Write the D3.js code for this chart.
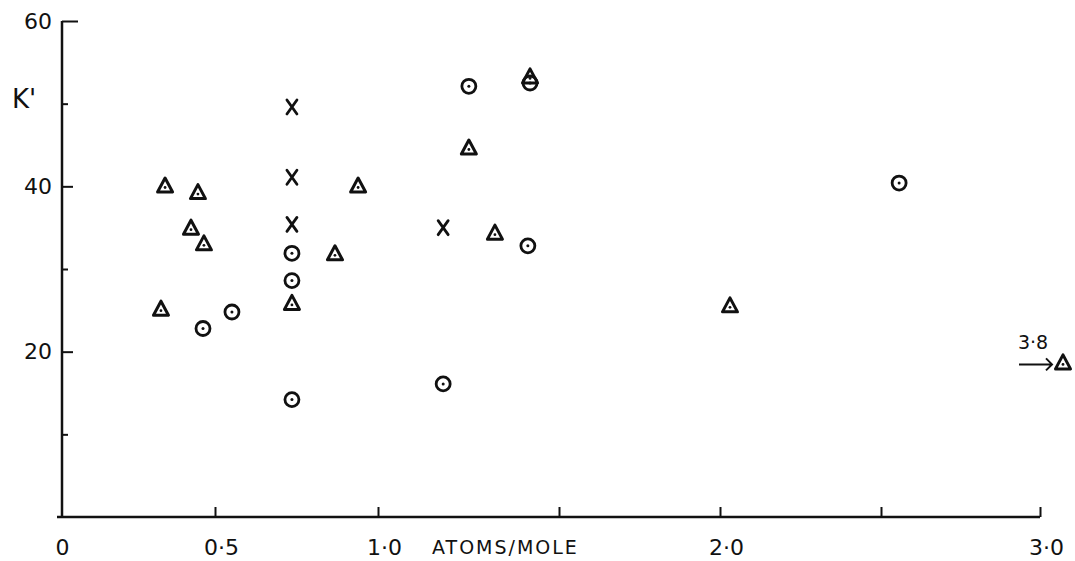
<!DOCTYPE html>
<html>
<head>
<meta charset="utf-8">
<script src="https://cdn.jsdelivr.net/npm/d3@7"></script>
<style>
  body { margin: 0; background: #fff; }
  svg text { font-family: "DejaVu Sans", sans-serif; fill: #111; }
</style>
</head>
<body>
<div id="chart"></div>
<script>
var svgWidth = 1075;
var svgHeight = 561;

// data
var triX = [0.342, 0.446, 0.424, 0.465, 0.329, 0.736, 0.939, 0.868, 1.251, 1.323, 1.42, 2.031, 3.8];
var triY = [40.1, 39.3, 35.0, 33.1, 25.2, 25.9, 40.1, 31.9, 44.7, 34.4, 53.3, 25.6, 18.7];
var circX = [0.552, 0.462, 0.736, 0.736, 0.736, 1.18, 1.251, 1.414, 2.557, 1.42];
var circY = [24.8, 22.8, 31.9, 28.6, 14.2, 16.1, 52.1, 32.8, 40.4, 52.5];
var crossX = [0.736, 0.736, 0.736, 1.18];
var crossY = [49.6, 41.1, 35.4, 35.0];

var xTicks = [0, 0.5, 1, 1.5, 2, 2.5, 3];
var xLabelled = [0, 0.5, 1, 2, 3];
var yTicks = [10, 20, 30, 40, 50, 60];
var yLabelled = [20, 40, 60];
var offScale = 3.8; // plotted past the end of the axis with an arrow

var svg = d3.select("#chart")
  .append("svg")
  .attr("width", svgWidth)
  .attr("height", svgHeight);

// the hand-drawn axis isn't quite even, so use a piecewise scale
var xScale = d3.scaleLinear()
  .domain([0, 0.5, 1, 1.5, 2, 2.5, 3, 3.8])
  .range([57, 215, 378, 559, 720, 881, 1040, 1063]);

var yScale = d3.scaleLinear()
  .domain([0, 60])
  .range([517, 21]);

var fmt = d => d === 0 ? "0" : d3.format(".1f")(d).replace(".", "·");

// x axis
var xAxis = d3.axisBottom(xScale)
  .tickValues(xTicks)
  .tickSizeInner(-10)
  .tickSizeOuter(0)
  .tickPadding(22)
  .tickFormat(d => xLabelled.includes(d) ? fmt(d) : "");

var gx = svg.append("g")
  .attr("transform", `translate(0, ${yScale(0)})`)
  .call(xAxis);
gx.select(".domain").remove();
gx.selectAll(".tick line").attr("stroke", "#111").attr("stroke-width", 2)
  .attr("y2", d => d === 0 ? 0 : -10);
gx.selectAll(".tick text").attr("font-size", 22).attr("dx", d => d === 0 ? 5 : 6);

svg.append("line")
  .attr("x1", xScale(0)).attr("x2", xScale(3))
  .attr("y1", yScale(0)).attr("y2", yScale(0))
  .attr("stroke", "#111").attr("stroke-width", 2.5);

// y axis
var yAxis = d3.axisLeft(yScale)
  .tickValues(yTicks)
  .tickSizeInner(-10)
  .tickSizeOuter(0)
  .tickPadding(10)
  .tickFormat(d => yLabelled.includes(d) ? d3.format("d")(d) : "");

var gy = svg.append("g")
  .attr("transform", `translate(${xScale(0) + 5}, 0)`)
  .call(yAxis);
gy.select(".domain").remove();
gy.selectAll(".tick line").attr("stroke", "#111").attr("stroke-width", 2)
  .attr("x2", d => d === 60 ? 16 : (d % 20 === 0 ? 11 : 6));
gy.selectAll(".tick text").attr("font-size", 22);

svg.append("line")
  .attr("x1", xScale(0) + 5).attr("x2", xScale(0) + 5)
  .attr("y1", yScale(60)).attr("y2", yScale(0) + 1)
  .attr("stroke", "#111").attr("stroke-width", 2.5);

// axis titles
svg.append("text")
  .attr("x", 12).attr("y", 108)
  .attr("font-size", 26)
  .text("K'");

svg.append("text")
  .attr("x", 432).attr("y", 554)
  .attr("font-size", 19)
  .attr("letter-spacing", 2)
  .text("ATOMS/MOLE");

// markers
var markStroke = "#111";

var triPath = function(cx, cy) {
  var h = 13, w = 15;
  return `M${cx},${cy - h / 2 - 1} L${cx + w / 2},${cy + h / 2} L${cx - w / 2},${cy + h / 2} Z`;
};

var tri = svg.selectAll("g.tri")
  .data(triX.map((x, i) => ({x: x, y: triY[i]})))
  .enter().append("g").attr("class", "tri");
tri.append("path")
  .attr("d", d => triPath(xScale(d.x), yScale(d.y)))
  .attr("fill", "none").attr("stroke", markStroke)
  .attr("stroke-width", 3).attr("stroke-linejoin", "round");
tri.append("circle")
  .attr("cx", d => xScale(d.x)).attr("cy", d => yScale(d.y) + 2)
  .attr("r", 1.4).attr("fill", markStroke);

var circ = svg.selectAll("g.circ")
  .data(circX.map((x, i) => ({x: x, y: circY[i]})))
  .enter().append("g").attr("class", "circ");
circ.append("circle")
  .attr("cx", d => xScale(d.x)).attr("cy", d => yScale(d.y))
  .attr("r", 7).attr("fill", "none")
  .attr("stroke", markStroke).attr("stroke-width", 2.8);
circ.append("circle")
  .attr("cx", d => xScale(d.x)).attr("cy", d => yScale(d.y))
  .attr("r", 1.5).attr("fill", markStroke);

// crosses drawn as two strokes
var cross = svg.selectAll("path.cross")
  .data(crossX.map((x, i) => ({x: x, y: crossY[i]})))
  .enter().append("path")
  .attr("class", "cross")
  .attr("d", d => {
    var cx = xScale(d.x), cy = yScale(d.y);
    return `M${cx - 5},${cy - 7} L${cx + 5},${cy + 7} M${cx + 5},${cy - 7} L${cx - 5},${cy + 7}`;
  })
  .attr("fill", "none").attr("stroke", markStroke)
  .attr("stroke-width", 2.8).attr("stroke-linecap", "round");

// off-scale annotation
var ax = xScale(offScale), ay = yScale(triY[triX.indexOf(offScale)]);
svg.append("text")
  .attr("x", ax - 30).attr("y", ay - 13)
  .attr("text-anchor", "middle")
  .attr("font-size", 19)
  .text("3·8");
svg.append("path")
  .attr("d", `M${ax - 44},${ay + 2} L${ax - 11},${ay + 2} M${ax - 17},${ay - 4} L${ax - 11},${ay + 2} L${ax - 17},${ay + 8}`)
  .attr("fill", "none").attr("stroke", "#111").attr("stroke-width", 2);
</script>
</body>
</html>
